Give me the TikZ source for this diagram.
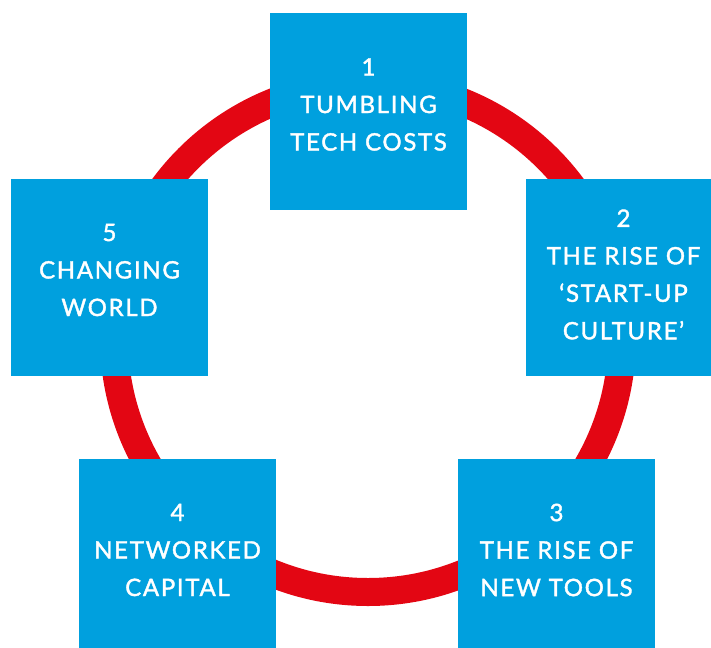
\documentclass[tikz,border=0pt]{standalone}
\usepackage{fontspec}
\setmainfont{Lato}
\newfontfamily\stagefont{Lato}[FakeBold=1.6,LetterSpace=7]
\definecolor{boxblue}{RGB}{0,160,222}
\definecolor{ringred}{RGB}{227,6,19}
\begin{document}
\begin{tikzpicture}[x=1pt,y=-1pt,
  stagebox/.style={fill=boxblue, draw=none, minimum width=197pt, minimum height=197pt, inner sep=0pt},
  stagetext/.style={text=white, align=center, inner sep=0pt, font=\stagefont\fontsize{24}{37.5}\selectfont}]
\useasboundingbox (0,0) rectangle (711,647);
\clip (0,0) rectangle (711,647);
\coordinate (c) at (368,338);
\draw[ringred, line width=28pt] (c) circle[radius=254];
\node[stagebox] (b1) at (368.5,111.5) {};
\node[stagebox] (b2) at (624.5,277) {};
\node[stagebox] (b3) at (556.5,557.5) {};
\node[stagebox] (b4) at (177.5,557.5) {};
\node[stagebox] (b5) at (109.5,277) {};
\node[stagetext] (t1) at ([yshift=7pt]b1.center) {1\\TUMBLING\\TECH COSTS};
\node[stagetext] (t2) at ([xshift=-1pt,yshift=2.5pt]b2.center) {2\\THE RISE OF\\‘START-UP\\CULTURE’};
\node[stagetext] (t3) at ([yshift=7.5pt]b3.center) {3\\THE RISE OF\\NEW TOOLS};
\node[stagetext] (t4) at ([yshift=7.5pt]b4.center) {4\\NETWORKED\\CAPITAL};
\node[stagetext] (t5) at ([yshift=7pt]b5.center) {5\\CHANGING\\WORLD};
\end{tikzpicture}
\end{document}
